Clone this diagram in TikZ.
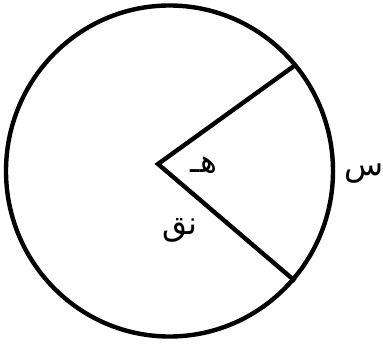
\documentclass[tikz,border=0pt]{standalone}
\usepackage{fontspec}
\newfontfamily\arabicfont[Script=Arabic]{DejaVu Sans}
\TeXXeTstate=1
\usetikzlibrary{calc}
\tikzset{>=latex}
\tikzset{lbl/.style={font=\arabicfont\fontsize{32}{36}\selectfont, inner sep=0pt}}

\begin{document}
\begin{tikzpicture}[x=1pt, y=-1pt, line width=4.4pt]
    \useasboundingbox (0,0) rectangle (383,343);
    \coordinate (C) at (169.5,171);
    \coordinate (O) at (158,164);
    \coordinate (A) at (294,66);
    \coordinate (B) at (295,281);

    \draw (C) circle [x radius=163.5, y radius=165.5];
    \draw [line join=miter] (A) -- (O) -- (B);

    \node [lbl] (h) at (204,165) {\beginR هـ\endR};
    \node [lbl] (nq) at (180,230) {\beginR نق\endR};
    \node [lbl] (s) at (364,174) {\beginR س\endR};
\end{tikzpicture}
\end{document}
